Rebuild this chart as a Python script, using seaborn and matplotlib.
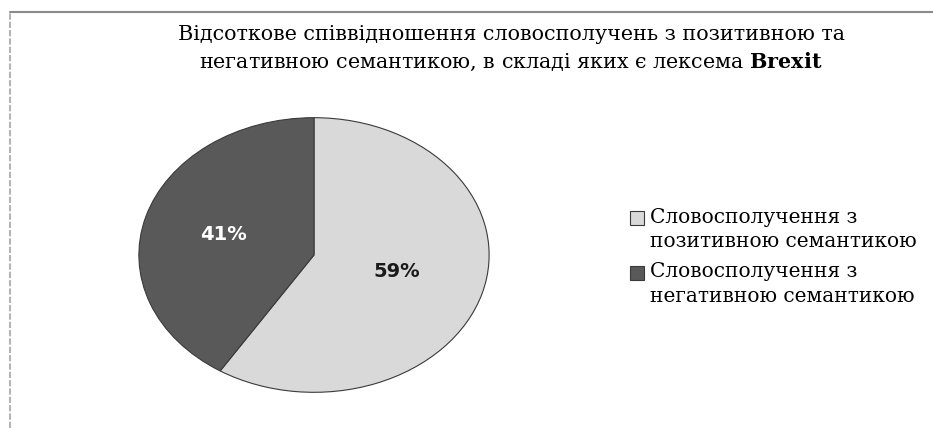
import numpy as np
import matplotlib
matplotlib.use("Agg")
import matplotlib.pyplot as plt
import seaborn as sns
from matplotlib.patches import Patch, Rectangle
from matplotlib.lines import Line2D
from matplotlib.legend_handler import HandlerPatch

sns.set_theme(style="white")
plt.rcParams["font.family"] = ["DejaVu Serif"]
plt.rcParams["mathtext.fontset"] = "dejavuserif"
plt.rcParams["text.color"] = "black"

# Data
categories = ["Словосполучення з\nпозитивною семантикою",
              "Словосполучення з\nнегативною семантикою"]
shares = [59, 41]
colors = ["#D9D9D9", "#595959"]
label_colors = ["#1a1a1a", "#ffffff"]

fig = plt.figure(figsize=(9.33, 4.28), dpi=100)
W, H = 933, 428

# Chart area frame (top and left edges visible)
fig.add_artist(Line2D([10 / W, 1.0], [1 - 12 / H, 1 - 12 / H], transform=fig.transFigure,
                      color="#8a8a8a", linewidth=1.5))
fig.add_artist(Line2D([10 / W, 10 / W], [0, 1 - 12 / H], transform=fig.transFigure,
                      color="#b5b5b5", linewidth=1.5, linestyle=(0, (3, 1))))

# Pie axes (stretched horizontally into an ellipse)
left, right, top, bottom = 138, 490, 117, 393
ax = fig.add_axes([left / W, (H - bottom) / H, (right - left) / W, (bottom - top) / H])
wedges, _ = ax.pie(shares, colors=colors, startangle=90, counterclock=False,
                   wedgeprops=dict(edgecolor="#3a3a3a", linewidth=0.8))
ax.set_xlim(-1.005, 1.005)
ax.set_ylim(-1.005, 1.005)
ax.set_aspect("auto")
ax.axis("off")

# Percentage labels
label_dist = [0.485, 0.54]
label_shift = [2, 0]
for w, val, c, d, s in zip(wedges, shares, label_colors, label_dist, label_shift):
    ang = np.deg2rad((w.theta1 + w.theta2) / 2 + s)
    ax.text(d * np.cos(ang), d * np.sin(ang), f"{val}%", ha="center", va="center",
            color=c, fontsize=14, fontweight="bold",
            family=["DejaVu Sans"])

# Title
fig.text(511 / W, 1 - 34 / H,
         "Відсоткове співвідношення словосполучень з позитивною та",
         ha="center", va="center", fontsize=14.9)
fig.text(511 / W, 1 - 62 / H,
         r"негативною семантикою, в складі яких є лексема $\mathbf{Brexit}$",
         ha="center", va="center", fontsize=14.9)


# Legend: swatch aligned with the first line of each two-line label
def top_aligned_square(legend, orig_handle, xdescent, ydescent, width, height, fontsize):
    return Rectangle((-xdescent, -ydescent + 8.5), width, height)


handles = [Patch(facecolor=c, edgecolor="#3a3a3a", linewidth=0.8) for c in colors]
leg = fig.legend(handles, categories, loc="upper left",
                 bbox_to_anchor=(612 / W, 1 - 190 / H), frameon=False,
                 fontsize=14.5, handlelength=0.7, handleheight=0.7,
                 handletextpad=0.3, labelspacing=0.55,
                 handler_map={Patch: HandlerPatch(patch_func=top_aligned_square)})
for t in leg.get_texts():
    t.set_linespacing(1.35)

fig.savefig("out.png", dpi=100, facecolor="white")
